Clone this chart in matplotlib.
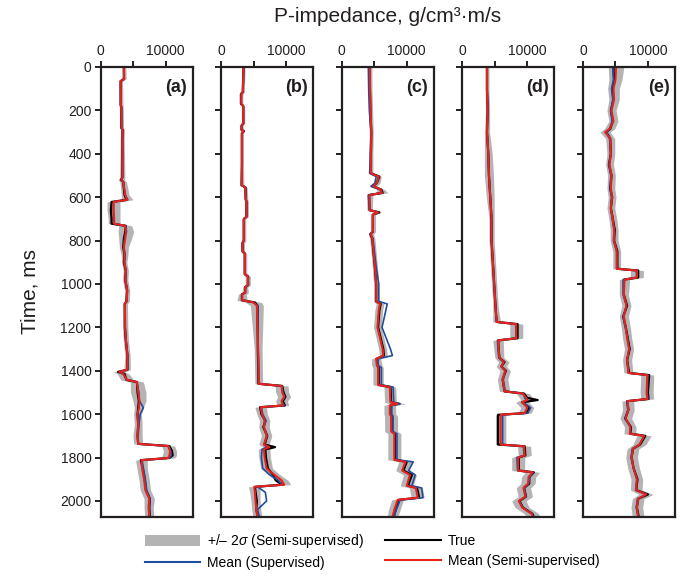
'''
P-impedance inversion results at five wells: true log, supervised mean,
semi-supervised mean and the +/- 2 sigma band of the semi-supervised model
'''
import matplotlib
matplotlib.use('Agg')
import numpy as np
import matplotlib.pyplot as plt
from matplotlib.patches import Patch
from matplotlib.lines import Line2D

plt.rcParams['font.family'] = ['Liberation Sans', 'DejaVu Sans']
plt.rcParams['mathtext.fontset'] = 'custom'
plt.rcParams['mathtext.it'] = 'Liberation Sans:italic'

# ---------------- data ----------------
# well (a)
t_a = [0, 55, 65, 175, 185, 280, 290, 330, 510, 520, 530, 590, 612, 622, 660, 700, 722, 732, 760, 790,
       830, 870, 900, 940, 980, 1030, 1080, 1090, 1200, 1260, 1330, 1395, 1405, 1415, 1442, 1452, 1500,
       1540, 1570, 1600, 1650, 1700, 1737, 1747, 1770, 1790, 1802, 1812, 1850, 1900, 1950, 1990, 2030, 2075]
true_a = [3600, 3600, 3100, 3100, 3200, 3200, 3400, 3350, 3350, 3150, 3500, 3700, 4000, 1700, 1600,
          1700, 1700, 3900, 3800, 3600, 3500, 3700, 3600, 3900, 3800, 4100, 4000, 3750, 3750, 3900,
          4150, 4150, 2700, 3700, 4000, 5600, 5700, 5900, 5800, 5700, 5800, 5700, 5800, 10600, 11000,
          11100, 10600, 6200, 6500, 6800, 7000, 7600, 7500, 7600]
semi_a = [3600, 3650, 3100, 3150, 3200, 3250, 3400, 3350, 3350, 3200, 3500, 3800, 4100, 2000, 2000,
          2100, 2100, 3800, 3900, 3800, 3600, 3700, 3650, 3900, 3800, 4100, 4050, 3750, 3800, 3900,
          4150, 4100, 2900, 3500, 4100, 5600, 5800, 6000, 5900, 5700, 5800, 5700, 5800, 10400, 10700,
          10600, 10400, 6300, 6400, 6700, 6900, 7500, 7400, 7500]
sup_a = [3600, 3600, 3150, 3100, 3200, 3200, 3400, 3400, 3400, 3200, 3500, 3800, 4200, 2000, 2000,
         2100, 2100, 3900, 4000, 3700, 3600, 3800, 3700, 3900, 3850, 4100, 4000, 3750, 3750, 3900,
         4150, 4150, 2900, 3500, 4000, 5600, 5900, 6000, 6600, 6100, 5900, 5800, 5800, 10500, 10800,
         10900, 10600, 6400, 6600, 6900, 7100, 7600, 7500, 7600]
sd_a = [150, 150, 150, 150, 150, 150, 150, 150, 200, 250, 250, 300, 450, 500, 500, 450, 450, 500, 600, 500,
        350, 250, 200, 200, 200, 200, 200, 200, 200, 200, 200, 250, 450, 450, 500, 500, 600, 500, 350, 300,
        300, 350, 350, 500, 500, 550, 500, 450, 400, 400, 400, 400, 350, 350]

# well (b)
t_b = [0, 100, 115, 125, 170, 180, 260, 270, 290, 295, 305, 450, 545, 555, 610, 620, 690, 700, 800, 810,
       850, 860, 955, 965, 1005, 1015, 1040, 1048, 1075, 1085, 1100, 1300, 1460, 1470, 1500, 1520, 1540,
       1560, 1568, 1600, 1630, 1660, 1700, 1740, 1752, 1762, 1800, 1850, 1880, 1905, 1925, 1935, 1960,
       2000, 2040, 2075]
true_b = [3450, 3350, 3350, 3050, 3050, 3400, 3400, 3150, 3150, 3500, 3200, 3200, 3150, 3750, 3800,
          3900, 3900, 3500, 3500, 3300, 3300, 3650, 3650, 4150, 4150, 3700, 3700, 3200, 3200, 5200,
          5600, 5650, 5750, 9400, 9600, 9900, 9500, 9800, 6000, 6200, 6800, 6500, 7100, 6700, 8300,
          6800, 6900, 7200, 8000, 8400, 9500, 5200, 5300, 5500, 5400, 5700]
semi_b = [3450, 3350, 3350, 3100, 3100, 3400, 3400, 3150, 3150, 3450, 3200, 3200, 3200, 3700, 3800,
          3900, 3900, 3500, 3500, 3300, 3300, 3650, 3650, 4100, 4100, 3700, 3700, 3250, 3250, 5000,
          5500, 5700, 5800, 9300, 9400, 9700, 9300, 9500, 6100, 6300, 6700, 6600, 7000, 6600, 7400,
          6600, 6700, 7000, 8200, 9300, 9700, 5100, 5200, 5300, 5400, 5600]
sup_b = [3500, 3400, 3400, 3150, 3100, 3400, 3450, 3200, 3200, 3500, 3250, 3250, 3200, 3750, 3800,
         3950, 3950, 3550, 3550, 3350, 3350, 3700, 3700, 4150, 4150, 3750, 3700, 3250, 3250, 5000,
         5600, 5700, 5800, 9400, 9500, 9800, 9300, 9700, 6200, 6400, 6900, 6600, 7100, 6600, 7000,
         6300, 6200, 6400, 7500, 8800, 9400, 5600, 6800, 7000, 5600, 5900]
sd_b = [120, 120, 120, 120, 120, 120, 120, 120, 120, 120, 120, 120, 150, 150, 150, 150, 150, 150, 150, 150,
        150, 150, 150, 200, 200, 200, 250, 300, 400, 600, 500, 300, 300, 500, 500, 500, 450, 450, 450, 400,
        400, 400, 400, 400, 450, 450, 450, 450, 450, 500, 500, 450, 400, 350, 350, 350]

# well (c)
t_c = [0, 100, 200, 300, 400, 490, 505, 535, 550, 565, 580, 590, 660, 670, 680, 760, 770, 790, 920, 1000,
       1080, 1092, 1120, 1200, 1300, 1330, 1345, 1375, 1385, 1465, 1475, 1545, 1552, 1560, 1600, 1610,
       1680, 1690, 1810, 1820, 1860, 1880, 1930, 1940, 1985, 1995, 2040, 2075]
true_c = [4300, 4350, 4400, 4550, 4500, 4500, 5800, 5400, 4800, 6100, 6300, 4200, 4300, 5800, 4800,
          4800, 4400, 4700, 5100, 5300, 5300, 6000, 5800, 5600, 6400, 6500, 5400, 5500, 5700, 5700,
          7500, 7600, 8800, 7500, 7500, 7700, 7700, 8200, 8200, 10000, 9500, 10800, 10200, 11600, 11900,
          8800, 8300, 8000]
semi_c = [4350, 4350, 4450, 4550, 4500, 4500, 5700, 5400, 4900, 6000, 6200, 4300, 4300, 5600, 4800,
          4800, 4500, 4700, 5100, 5300, 5300, 5900, 5700, 5500, 6300, 6400, 5300, 5400, 5600, 5600,
          7400, 7500, 8600, 7400, 7400, 7600, 7600, 8100, 8100, 9800, 9300, 10500, 10000, 11400, 11700,
          8600, 8100, 7800]
sup_c = [4100, 4150, 4250, 4500, 4400, 4300, 5300, 5100, 4500, 5900, 6100, 4100, 4300, 5700, 4800,
         4800, 4400, 4800, 5300, 5700, 5700, 7000, 6800, 6200, 7500, 7800, 5600, 5600, 6100, 6100,
         7900, 8000, 9000, 7700, 7700, 7900, 7900, 8500, 8500, 11000, 10300, 11300, 10800, 12300, 12500,
         9000, 8400, 8000]
sd_c = [150, 150, 150, 150, 150, 150, 200, 250, 250, 300, 450, 250, 200, 250, 200, 200, 200, 200, 200, 200,
        200, 300, 300, 300, 300, 300, 350, 400, 400, 400, 450, 450, 600, 450, 450, 500, 500, 500, 500, 500,
        500, 500, 500, 500, 500, 450, 450, 400]

# well (d)
t_d = [0, 100, 200, 300, 400, 500, 600, 700, 800, 900, 1000, 1100, 1143, 1175, 1185, 1250, 1260, 1340,
       1360, 1380, 1400, 1440, 1495, 1505, 1525, 1535, 1545, 1570, 1595, 1603, 1740, 1748, 1790, 1800,
       1860, 1868, 1890, 1920, 1940, 1980, 2000, 2030, 2060, 2075]
true_d = [3800, 3800, 3900, 3800, 4000, 4100, 4300, 4500, 4500, 4700, 4900, 5100, 5200, 5300, 8500,
          8500, 5500, 5700, 6500, 6000, 6700, 6200, 6500, 9500, 10000, 11600, 9200, 10300, 9800, 5500,
          5500, 9600, 9700, 8700, 8700, 11000, 10300, 10300, 9500, 9800, 8800, 9300, 10800, 11000]
semi_d = [3800, 3800, 3900, 3800, 4000, 4100, 4300, 4500, 4500, 4700, 4900, 5100, 5200, 5300, 8300,
          8300, 5500, 5700, 6400, 6000, 6600, 6200, 6500, 9300, 9800, 10000, 9200, 10000, 9600, 5900,
          5900, 9500, 9600, 8600, 8600, 10800, 10200, 10100, 9400, 9700, 8700, 9200, 10700, 10800]
sup_d = [3800, 3800, 3900, 3800, 4000, 4100, 4300, 4500, 4500, 4700, 4900, 5100, 5200, 5300, 8200,
         8300, 5400, 5600, 6300, 6000, 6600, 6300, 6600, 9400, 9600, 9800, 9300, 10500, 10100, 6200,
         6200, 9400, 9500, 8400, 8500, 10900, 10400, 10200, 9500, 9800, 8700, 9300, 10800, 10900]
sd_d = [150, 150, 150, 200, 300, 350, 300, 200, 200, 200, 200, 200, 250, 300, 500, 500, 400, 350, 400, 400,
        400, 400, 400, 500, 500, 500, 500, 500, 500, 400, 400, 500, 500, 500, 500, 550, 550, 550, 550, 550,
        550, 550, 550, 550]

# well (e)
t_e = [0, 60, 100, 150, 200, 250, 285, 300, 330, 400, 450, 500, 560, 600, 650, 700, 750, 800, 850, 930,
       938, 970, 980, 1050, 1100, 1150, 1200, 1250, 1300, 1350, 1410, 1420, 1500, 1530, 1540, 1580, 1620,
       1660, 1690, 1700, 1740, 1760, 1800, 1850, 1900, 1950, 1970, 1990, 2030, 2075]
true_e = [4700, 4800, 4500, 4700, 4300, 4600, 4200, 3600, 4200, 4300, 4000, 4400, 4200, 4500, 4300,
          4600, 4900, 4800, 5300, 5300, 8500, 8500, 6300, 6300, 6800, 6200, 6600, 6900, 7200, 6800,
          7100, 10200, 10000, 10100, 6800, 7000, 6500, 7400, 7300, 9600, 8800, 7700, 7500, 7800, 8400,
          8200, 10000, 8500, 8300, 8600]
semi_e = [5100, 5000, 4700, 4800, 4400, 4700, 4100, 3400, 4200, 4300, 4100, 4400, 4300, 4500, 4300,
          4600, 4800, 4800, 5200, 5200, 8300, 8300, 6400, 6300, 6700, 6300, 6600, 6800, 7100, 6800,
          7000, 9900, 9800, 9900, 6900, 7000, 6600, 7300, 7200, 9400, 8700, 7700, 7500, 7800, 8300,
          8200, 9700, 8500, 8300, 8500]
sup_e = [4600, 4700, 4400, 4600, 4300, 4500, 4100, 3700, 4100, 4300, 4000, 4300, 4200, 4400, 4300,
         4500, 4800, 4700, 5200, 5200, 8200, 8300, 6200, 6200, 6700, 6200, 6500, 6900, 7100, 6800,
         7000, 10000, 9900, 10000, 6800, 6900, 6500, 7300, 7300, 9400, 8700, 7600, 7400, 7800, 8300,
         8100, 9800, 8400, 8200, 8500]
sd_e = [600, 500, 450, 400, 350, 350, 400, 400, 350, 300, 300, 300, 300, 300, 300, 300, 300, 300, 300, 300,
        500, 500, 400, 350, 350, 350, 350, 350, 350, 350, 350, 500, 500, 500, 450, 450, 450, 450, 450, 550,
        500, 450, 450, 450, 450, 450, 550, 450, 450, 450]

panel_labels = ['(a)', '(b)', '(c)', '(d)', '(e)']
wells = [(t_a, true_a, semi_a, sup_a, sd_a),
         (t_b, true_b, semi_b, sup_b, sd_b),
         (t_c, true_c, semi_c, sup_c, sd_c),
         (t_d, true_d, semi_d, sup_d, sd_d),
         (t_e, true_e, semi_e, sup_e, sd_e)]

# colours
BAND = '#b4b4b4'
BLUE = '#1f4e9e'
RED = '#e8211c'
INK = '#231f20'

# ---------------- figure ----------------
W, H = 686, 575
fig = plt.figure(figsize=(W / 100, H / 100), dpi=100)

for i, (t, tr, semi, sup, sd) in enumerate(wells):
    left = 100.5 + i * 120.6
    ax = fig.add_axes([left / W, 1 - 517 / H, 92 / W, 450 / H])
    t = np.array(t)
    semi = np.array(semi)
    sd = np.array(sd)
    ax.fill_betweenx(t, semi - 2 * sd, semi + 2 * sd, color=BAND, lw=0)
    ax.plot(tr, t, color='black', lw=1.6)
    ax.plot(sup, t, color=BLUE, lw=1.2)
    ax.plot(semi, t, color=RED, lw=1.5)

    ax.set_xlim(0, 14150)
    ax.set_ylim(2074, 0)
    ax.xaxis.tick_top()
    ax.set_xticks([0, 5000, 10000], labels=['0', '', '10000'])
    ax.set_yticks(range(0, 2001, 200))
    if i > 0:
        ax.set_yticklabels([])
    ax.tick_params(direction='out', length=4.5, width=1.4, labelsize=10, pad=2, colors=INK)
    for sp in ax.spines.values():
        sp.set_linewidth(1.6)
        sp.set_color(INK)
    ax.text(0.94, 0.955, panel_labels[i], transform=ax.transAxes, ha='right', va='center',
            fontsize=13, fontweight='bold', color=INK)

fig.text(388 / W, 1 - 17 / H, 'P-impedance, g/cm³·m/s', ha='center', va='center', fontsize=15, color=INK)
fig.text(30 / W, 1 - 292 / H, 'Time, ms', ha='center', va='center', rotation=90, fontsize=15, color=INK)

handles = [Patch(facecolor=BAND, edgecolor='none'),
           Line2D([], [], color=BLUE, lw=1.5),
           Line2D([], [], color='black', lw=1.5),
           Line2D([], [], color=RED, lw=1.5)]
labels = ['+/\u2013 2$\\sigma$ (Semi-supervised)', 'Mean (Supervised)',
          'True', 'Mean (Semi-supervised)']
fig.legend(handles, labels, ncol=2, loc='center', bbox_to_anchor=(372 / W, 1 - 551 / H),
           frameon=False, fontsize=10, handlelength=4.0, handleheight=0.9, handletextpad=0.5,
           columnspacing=1.5, labelspacing=0.4, borderpad=0)

plt.savefig('out.png', dpi=100)
